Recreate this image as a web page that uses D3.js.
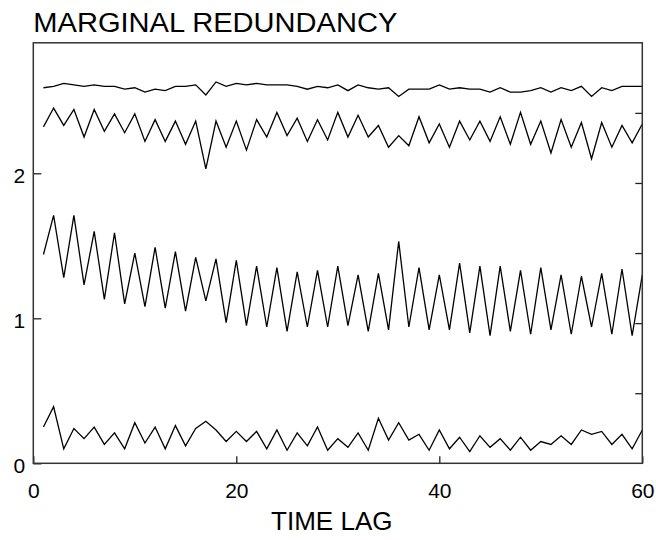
<!DOCTYPE html>
<html>
<head>
<meta charset="utf-8">
<script src="https://cdn.jsdelivr.net/npm/d3@7"></script>
<style>
  body { margin: 0; background: #fff; }
  svg text { font-family: "Liberation Sans", Arial, sans-serif; fill: #000; }
</style>
</head>
<body>
<svg id="chart" width="656" height="540"></svg>
<script>
const lags = [1,2,3,4,5,6,7,8,9,10,11,12,13,14,15,16,17,18,19,20,
  21,22,23,24,25,26,27,28,29,30,31,32,33,34,35,36,37,38,39,40,
  41,42,43,44,45,46,47,48,49,50,51,52,53,54,55,56,57,58,59,60];

const series1 = [2.59,2.60,2.62,2.61,2.60,2.61,2.60,2.60,2.58,2.59,2.56,2.58,2.57,2.60,2.60,2.61,2.54,2.63,2.60,2.62,
  2.61,2.62,2.61,2.61,2.61,2.60,2.58,2.60,2.59,2.61,2.57,2.61,2.59,2.58,2.59,2.53,2.58,2.58,2.58,2.61,
  2.58,2.59,2.58,2.58,2.56,2.59,2.56,2.56,2.57,2.59,2.56,2.59,2.57,2.60,2.53,2.59,2.57,2.60,2.60,2.60];

const series2 = [2.32,2.45,2.33,2.44,2.25,2.44,2.29,2.41,2.28,2.41,2.22,2.37,2.22,2.36,2.20,2.36,2.03,2.36,2.18,2.36,
  2.16,2.37,2.25,2.42,2.26,2.38,2.22,2.37,2.23,2.42,2.25,2.40,2.25,2.33,2.18,2.26,2.19,2.39,2.21,2.34,
  2.18,2.36,2.23,2.36,2.22,2.39,2.20,2.42,2.20,2.36,2.14,2.37,2.18,2.35,2.10,2.35,2.18,2.33,2.21,2.34];

const series3 = [1.44,1.71,1.28,1.71,1.23,1.60,1.13,1.59,1.10,1.45,1.08,1.49,1.07,1.46,1.05,1.42,1.12,1.41,0.97,1.40,
  0.95,1.36,0.94,1.35,0.91,1.32,0.94,1.33,0.94,1.36,0.95,1.30,0.91,1.31,0.92,1.53,0.94,1.35,0.92,1.30,
  0.92,1.38,0.90,1.36,0.88,1.36,0.91,1.33,0.89,1.35,0.92,1.30,0.89,1.29,0.94,1.31,0.89,1.34,0.88,1.30];

const series4 = [0.25,0.39,0.10,0.24,0.17,0.25,0.13,0.21,0.10,0.28,0.14,0.25,0.10,0.26,0.12,0.24,0.29,0.23,0.15,0.22,
  0.15,0.22,0.10,0.23,0.09,0.21,0.12,0.25,0.09,0.17,0.11,0.21,0.09,0.31,0.16,0.28,0.16,0.20,0.09,0.23,
  0.10,0.18,0.08,0.19,0.11,0.17,0.09,0.18,0.09,0.15,0.13,0.19,0.13,0.23,0.20,0.22,0.13,0.20,0.10,0.23];

const xTicks = [0, 20, 40, 60];
const yTicks = [0, 1, 2];
const rightTicks = [1, 2, 3, 4, 5];   // unlabelled ticks on the right edge

const titleText = 'MARGINAL REDUNDANCY';
const xTitle = 'TIME LAG';

const plotLeft = 33.3, plotRight = 642.3, plotTop = 42.8, plotBottom = 463.3;

const svg = d3.select('#chart');

const x = d3.scaleLinear().domain([0, 60]).range([plotLeft, plotRight]);
const y = d3.scaleLinear().domain([0, 2.9]).range([plotBottom, plotTop]);
const yRight = d3.scaleLinear().domain([0, 6]).range([plotBottom, plotTop]);

// lines
const line = d3.line()
  .x((d, i) => x(lags[i]))
  .y(d => y(d));

[series1, series2, series3, series4].forEach(s => {
  svg.append('path')
    .datum(s)
    .attr('d', line)
    .attr('fill', 'none')
    .attr('stroke', '#000')
    .attr('stroke-width', 1.3)
    .attr('stroke-linejoin', 'miter');
});

// axes
const xAxis = svg.append('g')
  .attr('transform', 'translate(0,' + plotBottom + ')')
  .call(d3.axisBottom(x).tickValues(xTicks).tickFormat(d3.format('d'))
    .tickSizeInner(-7).tickSizeOuter(0).tickPadding(20));

const yAxis = svg.append('g')
  .attr('transform', 'translate(' + plotLeft + ',0)')
  .call(d3.axisLeft(y).tickValues(yTicks).tickFormat(d3.format('d'))
    .tickSizeInner(-8).tickSizeOuter(0).tickPadding(8));

const rAxis = svg.append('g')
  .attr('transform', 'translate(' + plotRight + ',0)')
  .call(d3.axisRight(yRight).tickValues(rightTicks).tickFormat('')
    .tickSizeInner(-7).tickSizeOuter(0));

[xAxis, yAxis, rAxis].forEach(g => {
  g.select('.domain').remove();
  g.selectAll('line').attr('stroke', '#222').attr('stroke-width', 1.3);
  g.selectAll('text').style('font-size', '21px').attr('fill', '#000');
});
yAxis.selectAll('text').attr('dy', '0.45em');

// frame
svg.append('rect')
  .attr('x', plotLeft)
  .attr('y', plotTop)
  .attr('width', plotRight - plotLeft)
  .attr('height', plotBottom - plotTop)
  .attr('fill', 'none')
  .attr('stroke', '#333')
  .attr('stroke-width', 1.5);

// titles
svg.append('text')
  .attr('x', plotLeft)
  .attr('y', 31.5)
  .style('font-size', '27px')
  .attr('textLength', 364)
  .attr('lengthAdjust', 'spacingAndGlyphs')
  .text(titleText);

svg.append('text')
  .attr('x', (plotLeft + plotRight) / 2 - 6)
  .attr('y', 530)
  .attr('text-anchor', 'middle')
  .style('font-size', '26px')
  .text(xTitle);
</script>
</body>
</html>
